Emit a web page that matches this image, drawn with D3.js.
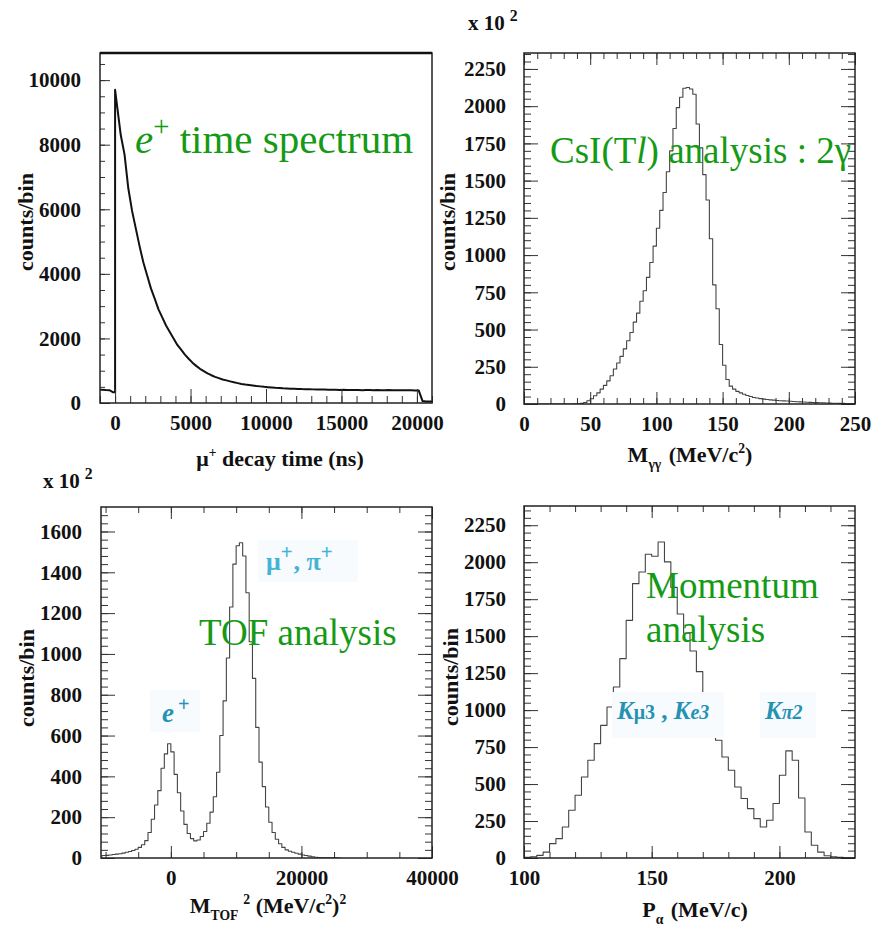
<!DOCTYPE html>
<html>
<head>
<meta charset="utf-8">
<script src="https://cdn.jsdelivr.net/npm/d3@7"></script>
<style>
body { margin: 0; background: #fff; }
svg { display: block; background: #fff; }
.tick text { font-family: "Liberation Serif", "Times New Roman", serif; font-weight: bold; font-size: 21px; fill: #111; }
.axis line { stroke: #333; }
.axis path.domain { display: none; }
</style>
</head>
<body>
<svg id="fig" width="874" height="929"></svg>
<script>
// ---- data ----

// e+ time spectrum, 250 ns bins from -1000 ns
let decayStart = -1000, decayWidth = 250;
let decayCounts = [
  410, 400, 395, 330, 9700, 8300, 7700, 6650,
  5950, 5400, 4850, 4350, 3950, 3550, 3230, 2900,
  2650, 2400, 2200, 2000, 1800, 1650, 1500, 1370,
  1250, 1150, 1060, 990, 920, 860, 810, 770,
  730, 700, 670, 640, 615, 590, 570, 555,
  540, 525, 515, 500, 490, 480, 470, 465,
  455, 450, 445, 440, 435, 430, 428, 425,
  422, 418, 415, 420, 410, 412, 408, 405,
  410, 402, 405, 400, 404, 398, 402, 400,
  396, 402, 398, 395, 400, 397, 393, 398,
  395, 392, 396, 390, 385, 60, 50, 50
];
let decayT0 = 0;
let decayXTicks = [0, 5000, 10000, 15000, 20000];
let decayYTicks = [0, 2000, 4000, 6000, 8000, 10000];

// M_gg, 2.5 MeV bins from 0, counts in units of 10^2
let mggStart = 0, mggWidth = 2.5;
let mggCounts = [
  0, 0, 0, 0, 0, 0, 0, 0, 0, 0,
  0, 0, 0, 0, 0, 1, 2, 4, 10, 22,
  35, 55, 75, 100, 125, 155, 190, 235, 275, 320,
  370, 425, 480, 550, 610, 690, 760, 850, 950, 1060,
  1180, 1300, 1420, 1560, 1700, 1850, 1990, 2060, 2120, 2125,
  2115, 2080, 1880, 1720, 1540, 1370, 1110, 800, 640, 400,
  260, 165, 120, 100, 85, 75, 65, 57, 50, 44,
  40, 36, 33, 30, 28, 26, 24, 22, 21, 20,
  18, 17, 15, 14, 13, 12, 11, 10, 9, 8,
  8, 7, 6, 5, 5, 4, 4, 3, 3, 2
];
let mggXTicks = [0, 50, 100, 150, 200, 250];
let mggYTicks = [0, 250, 500, 750, 1000, 1250, 1500, 1750, 2000, 2250];

// M_TOF^2, 500 (MeV/c^2)^2 bins from -11000, counts in units of 10^2
let tofStart = -11000, tofWidth = 500;
let tofCounts = [
  10, 12, 13, 15, 17, 19, 21, 24, 28, 32,
  37, 43, 52, 65, 85, 125, 190, 260, 330, 440,
  510, 560, 520, 410, 320, 230, 165, 120, 95, 84,
  88, 105, 130, 170, 225, 300, 420, 600, 770, 980,
  1230, 1440, 1530, 1545, 1480, 1300, 1060, 880, 640, 470,
  350, 250, 175, 125, 92, 70, 52, 40, 33, 28,
  23, 19, 15, 12, 9, 6, 4, 2, 1, 1,
  1, 1, 1, 0
];
let tofXTicks = [0, 20000, 40000];
let tofYTicks = [0, 200, 400, 600, 800, 1000, 1200, 1400, 1600];

// momentum, 2.5 MeV/c bins from 100, counts in units of 10^2
let momStart = 100, momWidth = 2.5;
let momCounts = [
  4, 8, 18, 40, 97, 131, 210, 323, 424, 548,
  661, 773, 897, 1021, 1156, 1348, 1607, 1855, 1934, 2054,
  2040, 2137, 2002, 1830, 1650, 1520, 1400, 1260, 1100, 931,
  796, 683, 593, 480, 402, 334, 266, 210, 255, 368,
  559, 724, 661, 406, 176, 86, 40, 15, 8, 4,
  2, 1
];
let momXTicks = [100, 150, 200];
let momYTicks = [0, 250, 500, 750, 1000, 1250, 1500, 1750, 2000, 2250];

// ---- drawing ----
let svg = d3.select('#fig');
let serif = '"Liberation Serif", "Times New Roman", serif';
let green = '#159a15';
let cyan = '#45b3d4';
let teal = '#2592b4';

function rich(sel, parts, size){
  let shift = 0;
  parts.forEach(p => {
    let target = p.sub ? size*0.3 : (p.sup ? -size*0.42 : 0);
    sel.append('tspan')
    .attr('dy', target - shift)
    .attr('dx', p.dx || null)
    .attr('font-size', (p.sub || p.sup) ? size*(p.scale || 0.62) : size*(p.scale || 1))
    .attr('font-style', p.it ? 'italic' : null)
    .text(p.t);
    shift = target;
  });
}

function drawPanel(p){
  let x = d3.scaleLinear().domain(p.xDomain).range([p.left, p.right]);
  let y = d3.scaleLinear().domain(p.yDomain).range([p.bottom, p.top]);
  let g = svg.append('g');

  svg.append('clipPath').attr('id', 'clip' + p.id)
  .append('rect')
  .attr('x', p.left).attr('y', p.top)
  .attr('width', p.right - p.left).attr('height', p.bottom - p.top);

  let pts = [];
  let line = d3.line()
  .x(d => x(d[0]))
  .y(d => y(d[1]));

  if(p.smooth){
    // fine-binned spectrum: join bin centres, sharp rise at t0
    p.counts.forEach((c, i) => {
      let lo = p.start + i*p.width;
      if(lo === p.t0){
        pts.push([lo, p.counts[i-1]]);
        pts.push([lo, c]);
      } else {
        pts.push([lo + p.width/2, c]);
      }
    });
    pts.unshift([p.start, p.counts[0]]);
    pts.push([p.start + p.counts.length*p.width, p.counts[p.counts.length-1]]);
  } else {
    if(p.fromZero) pts.push([p.start, 0]);
    p.counts.forEach((c, i) => pts.push([p.start + i*p.width, c]));
    let end = p.start + p.counts.length*p.width;
    pts.push([end, p.fromZero ? 0 : p.counts[p.counts.length-1]]);
    line.curve(d3.curveStepAfter);
  }

  g.append('path')
  .datum(pts)
  .attr('clip-path', 'url(#clip' + p.id + ')')
  .attr('d', line)
  .attr('fill', 'none')
  .attr('stroke', p.lineColor)
  .attr('stroke-width', p.lineWidth)
  .attr('stroke-linejoin', 'round');

  // axes, ticks pointing into the frame
  let xMinor = d3.range(p.xMinor[0], p.xDomain[1] + 1e-6, p.xMinor[1]);
  let yMinor = d3.range(0, p.yDomain[1], p.yMinor);

  g.append('g').attr('class', 'axis')
  .attr('transform', `translate(0,${p.bottom})`)
  .call(d3.axisBottom(x).tickValues(xMinor).tickSize(-p.minorX).tickSizeOuter(0).tickFormat(''));
  g.append('g').attr('class', 'axis')
  .attr('transform', `translate(0,${p.bottom})`)
  .call(d3.axisBottom(x).tickValues(p.xTicks).tickSize(-p.majorX).tickSizeOuter(0)
    .tickPadding(p.xPad).tickFormat(d3.format('d')));

  g.append('g').attr('class', 'axis')
  .attr('transform', `translate(${p.left},0)`)
  .call(d3.axisLeft(y).tickValues(yMinor).tickSize(-p.minorY).tickSizeOuter(0).tickFormat(''));
  g.append('g').attr('class', 'axis')
  .attr('transform', `translate(${p.left},0)`)
  .call(d3.axisLeft(y).tickValues(p.yTicks).tickSize(-p.majorY).tickSizeOuter(0)
    .tickPadding(p.yPad).tickFormat(d3.format('d')));

  if(p.allSides){
    g.append('g').attr('class', 'axis')
    .attr('transform', `translate(0,${p.top})`)
    .call(d3.axisTop(x).tickValues(xMinor).tickSize(-p.minorX).tickSizeOuter(0).tickFormat(''));
    g.append('g').attr('class', 'axis')
    .attr('transform', `translate(0,${p.top})`)
    .call(d3.axisTop(x).tickValues(p.xTicks).tickSize(-p.majorX).tickSizeOuter(0).tickFormat(''));
    g.append('g').attr('class', 'axis')
    .attr('transform', `translate(${p.right},0)`)
    .call(d3.axisRight(y).tickValues(yMinor).tickSize(-p.minorY).tickSizeOuter(0).tickFormat(''));
    g.append('g').attr('class', 'axis')
    .attr('transform', `translate(${p.right},0)`)
    .call(d3.axisRight(y).tickValues(p.yTicks).tickSize(-p.majorY).tickSizeOuter(0).tickFormat(''));
  }

  g.append('rect')
  .attr('x', p.left).attr('y', p.top)
  .attr('width', p.right - p.left).attr('height', p.bottom - p.top)
  .attr('fill', 'none')
  .attr('stroke', '#222')
  .attr('stroke-width', 1.5);

  if(p.topLine){
    g.append('line')
    .attr('x1', p.left).attr('x2', p.right)
    .attr('y1', p.top).attr('y2', p.top)
    .attr('stroke', '#111')
    .attr('stroke-width', p.topLine);
  }

  // y title
  g.append('text')
  .attr('transform', `translate(${p.yTitleX},${p.yTitleY}) rotate(-90)`)
  .attr('text-anchor', 'middle')
  .attr('font-family', serif)
  .attr('font-weight', 'bold')
  .attr('font-size', 22)
  .attr('fill', '#111')
  .text('counts/bin');

  // x title
  let xt = g.append('text')
  .attr('x', p.xTitleX).attr('y', p.xTitleY)
  .attr('text-anchor', 'middle')
  .attr('font-family', serif)
  .attr('font-weight', 'bold')
  .attr('font-size', 22)
  .attr('fill', '#111');
  rich(xt, p.xTitle, 22);

  // x 10^2 multiplier
  if(p.mult){
    let mt = g.append('text')
    .attr('x', p.mult[0]).attr('y', p.mult[1])
    .attr('font-family', serif)
    .attr('font-weight', 'bold')
    .attr('font-size', 21)
    .attr('fill', '#111');
    rich(mt, [{t: 'x 10'}, {t: '2', sup: true, dx: 5, scale: 0.75}], 21);
  }
  return {x: x, y: y};
}

drawPanel({
  id: 1, left: 100, right: 432, top: 53, bottom: 403,
  xDomain: [-1000, 21000], yDomain: [0, 10840],
  start: decayStart, width: decayWidth, counts: decayCounts, smooth: true, t0: decayT0,
  xTicks: decayXTicks, xMinor: [-1000, 1000], yTicks: decayYTicks, yMinor: 500,
  majorX: 14, minorX: 7, majorY: 10, minorY: 5, xPad: 12, yPad: 19,
  lineColor: '#111', lineWidth: 2, allSides: false, topLine: 2.5,
  yTitleX: 33, yTitleY: 222,
  xTitleX: 280, xTitleY: 466,
  xTitle: [{t: 'μ'}, {t: '+', sup: true}, {t: ' decay time (ns)'}]
});

drawPanel({
  id: 2, left: 524, right: 855, top: 53, bottom: 404,
  xDomain: [0, 250], yDomain: [0, 2357],
  start: mggStart, width: mggWidth, counts: mggCounts, fromZero: true,
  xTicks: mggXTicks, xMinor: [0, 10], yTicks: mggYTicks, yMinor: 50,
  majorX: 12, minorX: 6, majorY: 14, minorY: 7, xPad: 12, yPad: 18,
  lineColor: '#444', lineWidth: 1.1, allSides: true,
  yTitleX: 455, yTitleY: 222,
  xTitleX: 690, xTitleY: 462,
  xTitle: [{t: 'M'}, {t: 'γγ', sub: true}, {t: ' (MeV/c', dx: 2}, {t: '2', sup: true}, {t: ')'}],
  mult: [468, 30]
});

drawPanel({
  id: 3, left: 101, right: 432, top: 507, bottom: 858,
  xDomain: [-10700, 40000], yDomain: [0, 1720],
  start: tofStart, width: tofWidth, counts: tofCounts, fromZero: false,
  xTicks: tofXTicks, xMinor: [-10000, 5000], yTicks: tofYTicks, yMinor: 40,
  majorX: 12, minorX: 6, majorY: 14, minorY: 7, xPad: 12, yPad: 19,
  lineColor: '#444', lineWidth: 1.1, allSides: true,
  yTitleX: 34, yTitleY: 678,
  xTitleX: 268, xTitleY: 913,
  xTitle: [{t: 'M'}, {t: 'TOF', sub: true}, {t: '2', sup: true, dx: 5}, {t: ' (MeV/c'}, {t: '2', sup: true}, {t: ')'}, {t: '2', sup: true}],
  mult: [43, 488]
});

drawPanel({
  id: 4, left: 524, right: 855, top: 506, bottom: 858,
  xDomain: [100, 229.6], yDomain: [0, 2380],
  start: momStart, width: momWidth, counts: momCounts, fromZero: true,
  xTicks: momXTicks, xMinor: [100, 10], yTicks: momYTicks, yMinor: 50,
  majorX: 12, minorX: 6, majorY: 14, minorY: 7, xPad: 12, yPad: 18,
  lineColor: '#444', lineWidth: 1.1, allSides: true,
  yTitleX: 458, yTitleY: 677,
  xTitleX: 695, xTitleY: 917,
  xTitle: [{t: 'P'}, {t: 'α', sub: true}, {t: ' (MeV/c)', dx: 2}]
});

// ---- annotations ----
function note(x, y, size, color, parts, opts){
  opts = opts || {};
  if(opts.box){
    svg.append('rect')
    .attr('x', opts.box[0]).attr('y', opts.box[1])
    .attr('width', opts.box[2]).attr('height', opts.box[3])
    .attr('fill', '#f7fbfd');
  }
  let t = svg.append('text')
  .attr('x', x).attr('y', y)
  .attr('font-family', serif)
  .attr('font-size', size)
  .attr('font-weight', opts.bold ? 'bold' : null)
  .attr('fill', color);
  rich(t, parts, size);
}

note(135, 153, 41, green, [{t: 'e', it: true}, {t: '+', sup: true, scale: 0.7}, {t: ' time spectrum'}]);
note(550, 163, 37, green, [{t: 'CsI(T'}, {t: 'l', it: true}, {t: ') analysis : 2γ'}]);
note(199, 645, 37, green, [{t: 'TOF analysis'}]);
note(646, 598, 37, green, [{t: 'Momentum'}]);
note(646, 642, 37, green, [{t: 'analysis'}]);

note(266, 570, 26, cyan, [{t: 'μ'}, {t: '+', sup: true, scale: 0.8}, {t: ',  π', dx: 1}, {t: '+', sup: true, scale: 0.8}],
  {bold: true, box: [258, 540, 100, 42]});
note(162, 722, 27, teal, [{t: 'e', it: true}, {t: '+', sup: true, scale: 0.75, dx: 4}],
  {bold: true, box: [150, 690, 50, 42]});
note(617, 719, 25, teal, [{t: 'K', it: true}, {t: 'μ3', scale: 0.8}, {t: ' , '}, {t: 'K', it: true}, {t: 'e3', it: true, scale: 0.8}],
  {bold: true, box: [612, 692, 112, 46]});
note(765, 719, 25, teal, [{t: 'K', it: true}, {t: 'π2', it: true, scale: 0.8}],
  {bold: true, box: [760, 692, 56, 46]});
</script>
</body>
</html>
